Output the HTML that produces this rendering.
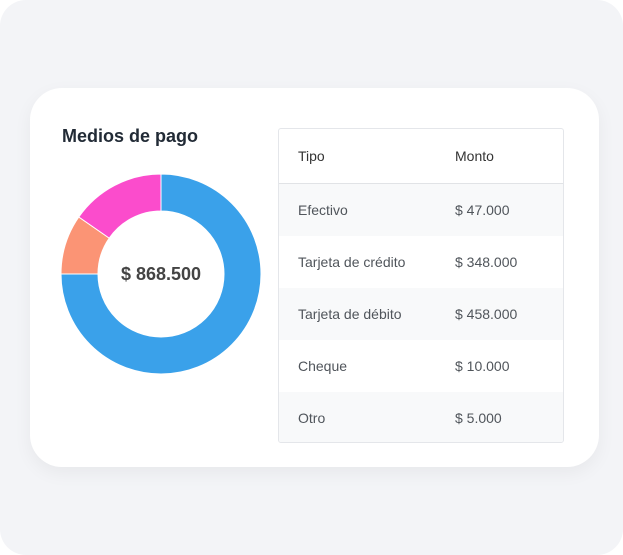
<!DOCTYPE html>
<html><head><meta charset="utf-8"><style>
html,body{margin:0;padding:0;background:#fff;}
body{width:623px;height:555px;position:relative;overflow:hidden;font-family:"Liberation Sans",Arial,sans-serif;}
.bg{position:absolute;left:0;top:0;width:623px;height:555px;background:#f3f4f7;border-radius:26px;}
.card{position:absolute;left:30px;top:88px;width:569px;height:379px;background:#fff;border-radius:32px;box-shadow:0 6px 18px rgba(0,0,0,0.05);}
.title{position:absolute;left:62px;top:126px;font-size:18px;font-weight:bold;color:#222b36;}
svg{position:absolute;left:0;top:0;}
.table{position:absolute;left:278px;top:128px;width:284px;height:313px;border:1px solid #e4e6ea;border-radius:3px;overflow:hidden;}
.row{position:absolute;left:0;width:284px;height:52px;font-size:14px;color:#50555b;}
.row span{position:absolute;top:50%;transform:translateY(-50%);}
.c1{left:19px}.c2{left:176px}
.g{background:#f8f9fa;}
.hd{border-bottom:1px solid #e1e3e6;height:54px;color:#333;}
</style></head><body>
<div class="bg"></div>
<div class="card"></div>
<div class="title">Medios de pago</div>
<svg width="623" height="555">
<g transform="translate(161,274)" stroke="#fff" stroke-width="1">
<path d="M0,-100 A100,100 0 1 1 -100,0 L-63,0 A63,63 0 1 0 0,-63 Z" fill="#3aa1ea"/>
<path d="M-100,0 A100,100 0 0 1 -82.2,-57 L-51.8,-35.9 A63,63 0 0 0 -63,0 Z" fill="#fb9475"/>
<path d="M-82.2,-57 A100,100 0 0 1 0,-100 L0,-63 A63,63 0 0 0 -51.8,-35.9 Z" fill="#fb4ccc"/>
</g>
<text x="161" y="280" text-anchor="middle" font-family="Liberation Sans, Arial, sans-serif" font-weight="bold" font-size="18" fill="#444">$ 868.500</text>
</svg>
<div class="table">
<div class="row hd" style="top:0"><span class="c1">Tipo</span><span class="c2">Monto</span></div>
<div class="row g" style="top:55px"><span class="c1">Efectivo</span><span class="c2">$ 47.000</span></div>
<div class="row" style="top:107px"><span class="c1">Tarjeta de crédito</span><span class="c2">$ 348.000</span></div>
<div class="row g" style="top:159px"><span class="c1">Tarjeta de débito</span><span class="c2">$ 458.000</span></div>
<div class="row" style="top:211px"><span class="c1">Cheque</span><span class="c2">$ 10.000</span></div>
<div class="row g" style="top:263px"><span class="c1">Otro</span><span class="c2">$ 5.000</span></div>
</div>
</body></html>
